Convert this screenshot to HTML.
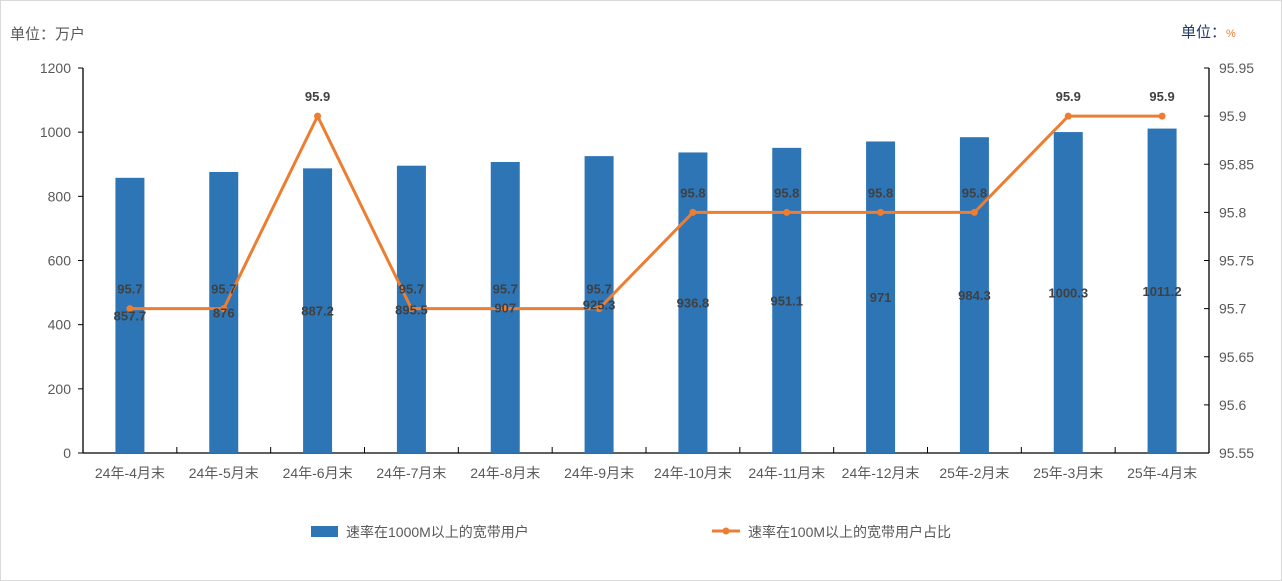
<!DOCTYPE html>
<html><head><meta charset="utf-8"><style>
html,body{margin:0;padding:0;background:#fff}
svg{display:block;font-family:"Liberation Sans","Noto Sans CJK SC",sans-serif}
</style></head><body>
<svg id="c" width="1282" height="581">
<rect x="0.5" y="0.5" width="1281" height="580" fill="#fff" stroke="#d9d9d9"/>
<text x="10" y="39" font-size="15" fill="#595959">单位：万户</text>
<text x="1181" y="37" font-size="15" fill="#1f3864">单位：<tspan fill="#ed7d31" font-size="11">%</tspan></text>
<g id="g"></g>
<g>
<rect x="311" y="526" width="27" height="11" fill="#2e75b6"/>
<text x="346" y="537" font-size="14" fill="#595959">速率在1000M以上的宽带用户</text>
<line x1="712" y1="531" x2="740" y2="531" stroke="#ed7d31" stroke-width="3"/>
<circle cx="726" cy="531" r="3.5" fill="#ed7d31"/>
<text x="748" y="537" font-size="14" fill="#595959">速率在100M以上的宽带用户占比</text>
</g>
</svg>
<script>
const categories=["24年-4月末","24年-5月末","24年-6月末","24年-7月末","24年-8月末","24年-9月末","24年-10月末","24年-11月末","24年-12月末","25年-2月末","25年-3月末","25年-4月末"];
const users=[857.7,876,887.2,895.5,907,925.3,936.8,951.1,971,984.3,1000.3,1011.2];
const share=[95.7,95.7,95.9,95.7,95.7,95.7,95.8,95.8,95.8,95.8,95.9,95.9];
const leftTicks=[0,200,400,600,800,1000,1200];
const rightTicks=["95.55","95.6","95.65","95.7","95.75","95.8","95.85","95.9","95.95"];
const NS="http://www.w3.org/2000/svg";
const g=document.getElementById('g');
const L=83,R=1209,T=68,B=453;
const step=(R-L)/categories.length;
const xc=i=>L+step*(i+0.5);
const yl=v=>B-(v-0)/(1200-0)*(B-T);
const yr=v=>B-(v-95.55)/(95.95-95.55)*(B-T);
function mk(t,a){const e=document.createElementNS(NS,t);for(const k in a)e.setAttribute(k,a[k]);g.appendChild(e);return e;}
// axes
let e=mk('line',{x1:L,y1:T,x2:L,y2:B,stroke:'#000','stroke-width':1.3});


e=mk('line',{x1:R,y1:T,x2:R,y2:B,stroke:'#000','stroke-width':1.3});


e=mk('line',{x1:L,y1:B,x2:R,y2:B,stroke:'#000','stroke-width':1.3});


leftTicks.forEach(v=>{
 const y=yl(v);
 let t=mk('line',{x1:L-5,y1:y,x2:L,y2:y,stroke:'#000'});
 
 
 t=mk('text',{x:L-12,y:y+5,'text-anchor':'end','font-size':14,fill:'#595959'});t.textContent=v;
 
 
});
rightTicks.forEach(s=>{
 const y=yr(parseFloat(s));
 let t=mk('line',{x1:R-5,y1:y,x2:R,y2:y,stroke:'#000'});
 
 
 t=mk('text',{x:R+10,y:y+5,'font-size':14,fill:'#595959'});t.textContent=s;
 
 
});
for(let i=1;i<categories.length;i++){
 let t=mk('line',{x1:L+step*i,y1:B,x2:L+step*i,y2:B-6,stroke:'#000'});
 
 
}
categories.forEach((c,i)=>{
 let t=mk('text',{x:xc(i),y:478,'text-anchor':'middle','font-size':14,fill:'#595959'});t.textContent=c;
 
 
});
// bars
users.forEach((v,i)=>{
 const y=yl(v);
 let r=mk('rect',{x:xc(i)-14.5,y:y,width:29,height:B-y,fill:'#2e75b6'});
 
 
});
// line
const pts=share.map((v,i)=>xc(i)+','+yr(v)).join(' ');
let pl=mk('polyline',{points:pts,fill:'none',stroke:'#ed7d31','stroke-width':3,'stroke-linejoin':'round'});


share.forEach((v,i)=>{
 let c=mk('circle',{cx:xc(i),cy:yr(v),r:3.5,fill:'#ed7d31'});
 
 
});
// labels
users.forEach((v,i)=>{
 const y=(yl(v)+B)/2+5;
 let t=mk('text',{x:xc(i),y:y,'text-anchor':'middle','font-size':13,'font-weight':'bold',fill:'#404040'});t.textContent=v;
 
 
});
share.forEach((v,i)=>{
 let t=mk('text',{x:xc(i),y:yr(v)-15,'text-anchor':'middle','font-size':13,'font-weight':'bold',fill:'#404040'});t.textContent=v;
 
 
});
</script>
</body></html>
